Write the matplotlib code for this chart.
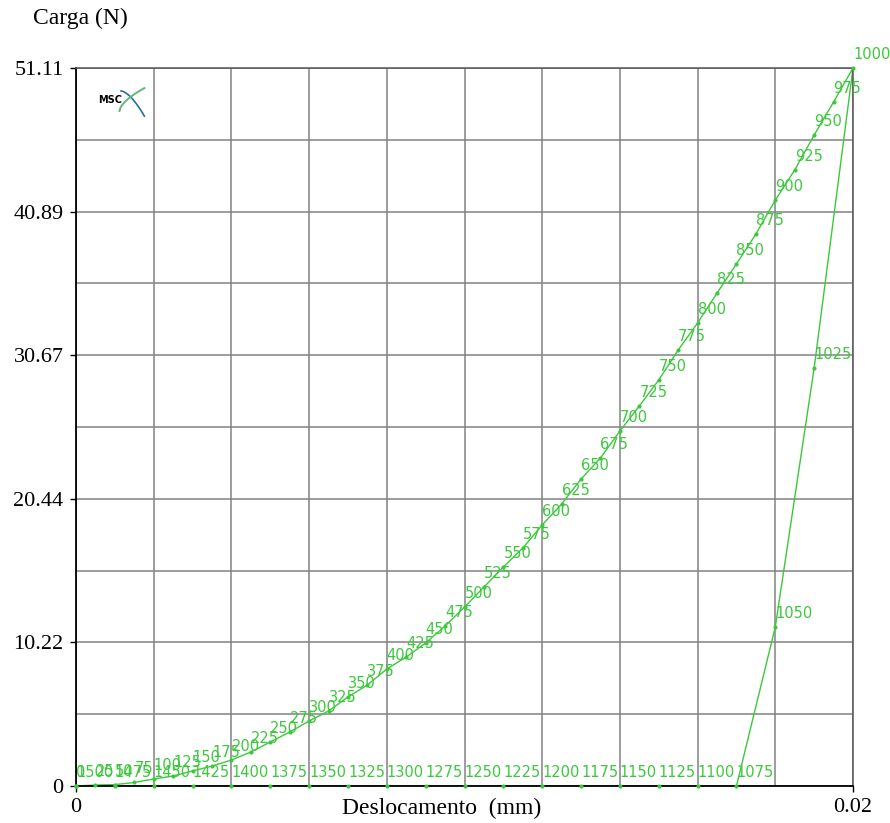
#!/usr/bin/env python3

import matplotlib.pyplot as plt
import numpy as np

# increment number printed next to every result point
increments = [0, 25, 50, 75, 100, 125, 150, 175, 200, 225,
              250, 275, 300, 325, 350, 375, 400, 425, 450, 475,
              500, 525, 550, 575, 600, 625, 650, 675, 700, 725,
              750, 775, 800, 825, 850, 875, 900, 925, 950, 975,
              1000, 1025, 1050, 1075, 1100, 1125, 1150, 1175, 1200, 1225,
              1250, 1275, 1300, 1325, 1350, 1375, 1400, 1425, 1450, 1475,
              1500]

# Deslocamento (mm)
displacement = [0.0000, 0.0005, 0.0010, 0.0015, 0.0020, 0.0025, 0.0030, 0.0035, 0.0040, 0.0045,
                0.0050, 0.0055, 0.0060, 0.0065, 0.0070, 0.0075, 0.0080, 0.0085, 0.0090, 0.0095,
                0.0100, 0.0105, 0.0110, 0.0115, 0.0120, 0.0125, 0.0130, 0.0135, 0.0140, 0.0145,
                0.0150, 0.0155, 0.0160, 0.0165, 0.0170, 0.0175, 0.0180, 0.0185, 0.0190, 0.0195,
                0.0200, 0.0190, 0.0180, 0.0170, 0.0160, 0.0150, 0.0140, 0.0130, 0.0120, 0.0110,
                0.0100, 0.0090, 0.0080, 0.0070, 0.0060, 0.0050, 0.0040, 0.0030, 0.0020, 0.0010,
                0.0000]

# Carga (N)
load = [0.00, 0.07, 0.10, 0.25, 0.50, 0.71, 1.07, 1.42, 1.85, 2.42,
        3.13, 3.84, 4.63, 5.34, 6.34, 7.19, 8.33, 9.18, 10.18, 11.39,
        12.74, 14.16, 15.59, 16.94, 18.58, 20.07, 21.85, 23.35, 25.27, 27.05,
        28.90, 31.03, 32.96, 35.09, 37.16, 39.29, 41.71, 43.85, 46.34, 48.69,
        51.11, 29.75, 11.32, 0.00, 0.00, 0.00, 0.00, 0.00, 0.00, 0.00,
        0.00, 0.00, 0.00, 0.00, 0.00, 0.00, 0.00, 0.00, 0.00, 0.00,
        0.00]

x_ticks = [0, 0.02]
x_ticklabels = ["0", "0.02"]
y_ticks = [0, 10.222, 20.444, 30.666, 40.888, 51.11]
y_ticklabels = ["0", "10.22", "20.44", "30.67", "40.89", "51.11"]
x_grid = [0.002, 0.004, 0.006, 0.008, 0.010, 0.012, 0.014, 0.016, 0.018]
y_grid = [5.111, 15.333, 25.555, 35.777, 45.999]

GREEN = '#3cc83c'
SERIF = 'Liberation Serif'


def main():
    fig = plt.figure(figsize=(8.9, 8.23), dpi=100)
    ax = fig.add_axes([76 / 890, 37 / 823, 777 / 890, 718 / 823])

    ax.set_xlim(0, 0.02)
    ax.set_ylim(0, 51.11)

    ax.set_xticks(x_ticks)
    ax.set_xticklabels(x_ticklabels, family=SERIF, fontsize=16)
    ax.set_yticks(y_ticks)
    ax.set_yticklabels(y_ticklabels, family=SERIF, fontsize=16)
    ax.set_xticks(x_grid, minor=True)
    ax.set_yticks(y_grid, minor=True)
    ax.tick_params(which='major', direction='out', length=4, width=1, pad=5)
    ax.tick_params(which='minor', length=0)
    ax.grid(which='both', color='#828282', linewidth=1.1)
    ax.set_axisbelow(True)

    for side in ('top', 'right'):
        ax.spines[side].set_color('#555555')
        ax.spines[side].set_linewidth(1.1)
    for side in ('left', 'bottom'):
        ax.spines[side].set_color('black')
        ax.spines[side].set_linewidth(1.3)

    # curve and result points
    ax.plot(displacement, load, '-', color=GREEN, linewidth=1.0, zorder=2)
    ax.plot(displacement, load, 'o', color=GREEN, markersize=3.0,
            markeredgewidth=0, zorder=4, clip_on=False)

    for inc, x, y in zip(increments, displacement, load):
        ax.annotate(str(inc), (x, y), xytext=(0, 9), textcoords='offset pixels',
                    ha='left', va='baseline', color=GREEN, fontsize=10.5,
                    annotation_clip=False, zorder=5)

    # MSC logo
    ax.text(0.028, 0.955, "MSC", transform=ax.transAxes, fontsize=7,
            fontweight='bold', family='DejaVu Sans', va='center', ha='left')
    t = np.linspace(0, 1, 30)
    ax.plot(0.058 + 0.03 * t, 0.968 - 0.035 * t ** 1.6, color='#2a6f9a',
            linewidth=1.2, transform=ax.transAxes)
    ax.plot(0.056 + 0.032 * t, 0.94 + 0.032 * t ** 0.6, color='#5fb87a',
            linewidth=1.4, transform=ax.transAxes)

    fig.text(33 / 890, 1 - 18 / 823, "Carga (N)", family=SERIF, fontsize=17,
             ha='left', va='center')
    fig.text(442 / 890, 1 - 808 / 823, "Deslocamento  (mm)", family=SERIF,
             fontsize=17, ha='center', va='center')

    fig.savefig("out.png", dpi=100)


if __name__ == "__main__":
    main()
